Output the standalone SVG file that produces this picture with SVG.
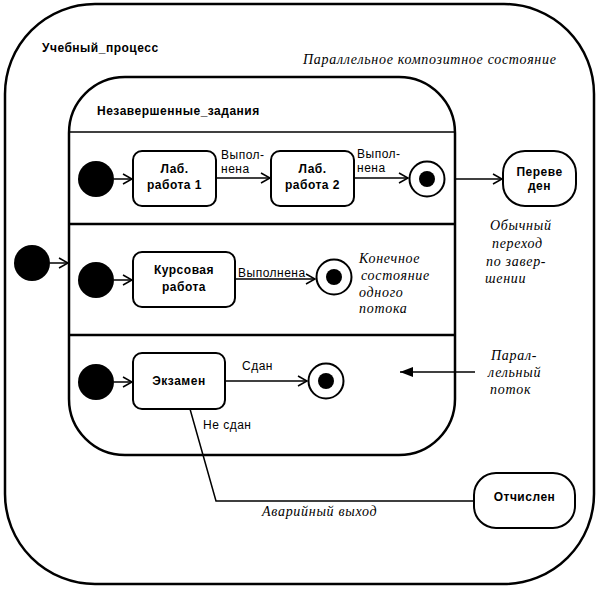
<svg xmlns="http://www.w3.org/2000/svg" width="599" height="590" viewBox="0 0 599 590">
<style>
.b{fill:none;stroke:#000;stroke-width:2.5}
.n{fill:#fff;stroke:#000;stroke-width:2}
.l{fill:none;stroke:#000;stroke-width:1.5}
.t{font-family:"Liberation Sans",Arial,sans-serif;font-size:12px;letter-spacing:0.5px;fill:#000}
.tb{font-family:"Liberation Sans",Arial,sans-serif;font-size:12px;font-weight:bold;letter-spacing:0.5px;fill:#000}
.ti{font-family:"Liberation Serif","Times New Roman",serif;font-size:14px;font-style:italic;letter-spacing:0.7px;fill:#000}
</style>
<defs>
<marker id="open" markerWidth="12" markerHeight="12" refX="10" refY="6" orient="auto" markerUnits="userSpaceOnUse">
<path d="M1,1 L10,6 L1,11" fill="none" stroke="#000" stroke-width="1.5"/>
</marker>
<marker id="fill" markerWidth="14" markerHeight="10" refX="13" refY="5" orient="auto" markerUnits="userSpaceOnUse">
<path d="M13,5 L0,0 L0,10 Z" fill="#000"/>
</marker>
</defs>
<rect width="599" height="590" fill="#fff"/>

<g id="uchebny_process">
<rect class="b" x="5" y="4" width="589" height="580" rx="90" ry="90"/>
<text class="tb" x="42" y="52">Учебный_процесс</text>
<text class="ti" x="303" y="64">Параллельное композитное состояние</text>
</g>

<g id="nezavershennye_zadaniya">
<rect class="b" x="69" y="77" width="386" height="378" rx="56" ry="56"/>
<text class="tb" x="97" y="115">Незавершенные_задания</text>
<line class="l" x1="69" y1="132" x2="455" y2="132"/>
<line class="b" x1="69" y1="224" x2="455" y2="224"/>
<line class="b" x1="69" y1="335" x2="455" y2="335"/>
</g>

<g id="init_outer"><circle cx="32" cy="263" r="18" fill="#000"/></g>
<g id="init1"><circle cx="96" cy="179" r="18" fill="#000"/></g>
<g id="init2"><circle cx="96" cy="280" r="18" fill="#000"/></g>
<g id="init3"><circle cx="96" cy="382" r="18" fill="#000"/></g>

<g id="lab1">
<rect class="n" x="133" y="151" width="83" height="55" rx="9"/>
<text class="tb" x="174.5" y="173" text-anchor="middle">Лаб.</text>
<text class="tb" x="174.5" y="189" text-anchor="middle">работа 1</text>
</g>
<g id="lab2">
<rect class="n" x="271" y="151" width="83" height="55" rx="9"/>
<text class="tb" x="312.5" y="173" text-anchor="middle">Лаб.</text>
<text class="tb" x="312.5" y="189" text-anchor="middle">работа 2</text>
</g>
<g id="final1"><circle class="n" cx="427" cy="179" r="17.5"/><circle cx="427" cy="179" r="8" fill="#000"/></g>

<g id="pereveden">
<rect class="n" x="503" y="151" width="73" height="55" rx="22"/>
<text class="tb" x="539.5" y="176" text-anchor="middle">Переве</text>
<text class="tb" x="539.5" y="190" text-anchor="middle">ден</text>
</g>

<g id="kursovaya">
<rect class="n" x="133" y="252" width="102" height="55" rx="9"/>
<text class="tb" x="184" y="274" text-anchor="middle">Курсовая</text>
<text class="tb" x="184" y="291" text-anchor="middle">работа</text>
</g>
<g id="final2"><circle class="n" cx="334" cy="277" r="17.5"/><circle cx="334" cy="277" r="8" fill="#000"/></g>

<g id="ekzamen">
<rect class="n" x="133" y="353" width="92" height="56" rx="9"/>
<text class="tb" x="179" y="385" text-anchor="middle">Экзамен</text>
</g>
<g id="final3"><circle class="n" cx="326" cy="381" r="17.5"/><circle cx="326" cy="381" r="8" fill="#000"/></g>

<g id="otchislen">
<rect class="n" x="474" y="473" width="101" height="55" rx="22"/>
<text class="tb" x="524.5" y="501" text-anchor="middle">Отчислен</text>
</g>

<g id="connectors">
<line class="l" x1="50" y1="263" x2="68" y2="263" marker-end="url(#open)"/>
<line class="l" x1="114" y1="179" x2="132" y2="179" marker-end="url(#open)"/>
<line class="l" x1="216" y1="178" x2="270" y2="178" marker-end="url(#open)"/>
<line class="l" x1="354" y1="178" x2="408" y2="178" marker-end="url(#open)"/>
<line class="l" x1="455" y1="179" x2="502" y2="179" marker-end="url(#open)"/>
<line class="l" x1="114" y1="280" x2="132" y2="280" marker-end="url(#open)"/>
<line class="l" x1="235" y1="279" x2="315" y2="279" marker-end="url(#open)"/>
<line class="l" x1="114" y1="382" x2="132" y2="382" marker-end="url(#open)"/>
<line class="l" x1="225" y1="381" x2="307" y2="381" marker-end="url(#open)"/>
<line class="l" x1="475" y1="372" x2="400" y2="372" marker-end="url(#fill)"/>
<polyline class="l" points="190,409 216,501 474,501"/>
<text class="t" x="221" y="159">Выпол-</text>
<text class="t" x="221" y="173">нена</text>
<text class="t" x="357" y="158">Выпол-</text>
<text class="t" x="357" y="172">нена</text>
<text class="t" x="238" y="277">Выполнена</text>
<text class="t" x="242" y="370">Сдан</text>
<text class="t" x="203" y="429">Не сдан</text>
<text class="ti" x="262" y="516">Аварийный выход</text>
<text class="ti" x="490" y="230">Обычный</text>
<text class="ti" x="492" y="248">переход</text>
<text class="ti" x="486" y="266">по завер-</text>
<text class="ti" x="485" y="283">шении</text>
<text class="ti" x="359" y="263">Конечное</text>
<text class="ti" x="361" y="280">состояние</text>
<text class="ti" x="359" y="297">одного</text>
<text class="ti" x="359" y="313">потока</text>
<text class="ti" x="491" y="360">Парал-</text>
<text class="ti" x="488" y="377">лельный</text>
<text class="ti" x="490" y="394">поток</text>
</g>
</svg>
